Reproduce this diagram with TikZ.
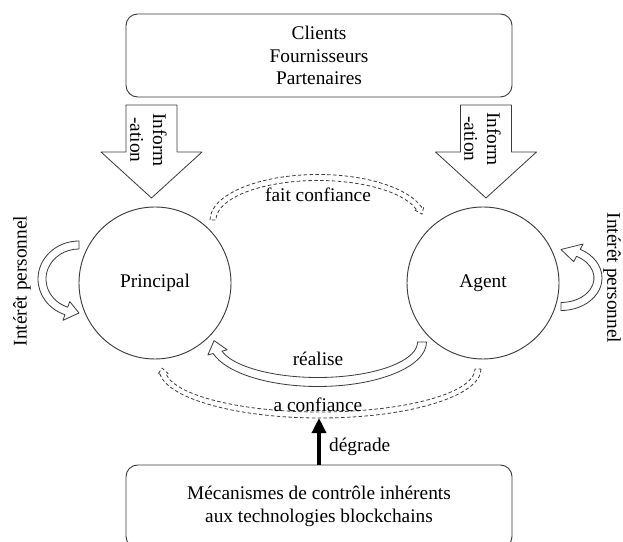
\documentclass[tikz,border=0pt]{standalone}
\usepackage{fontspec}
\setmainfont{Liberation Serif}
\usetikzlibrary{
    positioning,
    arrows.meta,
    calc
}
\definecolor{lineGray}{RGB}{60, 60, 60}

% curved block arrow: style, centre, start angle, head angle, tip angle, x radius, y radius, half width, half head
\newcommand{\bentarrow}[9]{%
    \draw[#1] ($(#2)+(#3:{#6+#8} and {#7+#8})$)
        arc[start angle=#3, end angle=#4, x radius={#6+#8}, y radius={#7+#8}]
        -- ($(#2)+(#4:{#6+#9} and {#7+#9})$)
        -- ($(#2)+(#5:#6 and #7)$)
        -- ($(#2)+(#4:{#6-#9} and {#7-#9})$)
        -- ($(#2)+(#4:{#6-#8} and {#7-#8})$)
        arc[start angle=#4, end angle=#3, x radius={#6-#8}, y radius={#7-#8}]
        -- cycle;}

\begin{document}
\begin{tikzpicture}[x=0.03cm, y=0.03cm, >=Stealth,
        every node/.style={font=\fontsize{16.5}{19.5}\selectfont},
        box/.style={draw=lineGray, rounded corners=0.35cm, minimum width=11.58cm, minimum height=2.49cm, align=center, line width=0.8pt},
        actor/.style={draw=lineGray, circle, minimum size=4.56cm, inner sep=0pt, line width=0.8pt},
        hollow/.style={draw=lineGray, fill=white, line width=0.7pt, line join=round},
        trust/.style={draw=lineGray, dash pattern=on 3pt off 2pt, line width=0.7pt}]
            \useasboundingbox (0,0) rectangle (623,542);
            \clip (0,0) rectangle (623,542);

            \node[box] (clients) at (319,486.5) {Clients\\Fournisseurs\\Partenaires};
            \node[box] (ctrl) at (319,35.5) {Mécanismes de contrôle inhérents\\aux technologies blockchains};

            \node[actor] (principal) at (155,259) {Principal};
            \node[actor] (agent) at (483,259) {Agent};

            % information
            \foreach \ax in {151.5, 486}
                \draw[hollow] (\ax,437) ++(-25.5,0) -- ++(51,0) -- ++(0,-47) -- ++(25,0)
                    -- ++(-50.5,-46) -- ++(-50.5,46) -- ++(25,0) -- cycle;
            \node[rotate=-90, align=center] (infoP) at (148.5,402) {Inform\\-ation};
            \node[rotate=-90, align=center] (infoA) at (482.5,403) {Inform\\-ation};

            % interet personnel
            \bentarrow{hollow}{79,263}{90}{250}{270}{37}{34}{4}{10}
            \bentarrow{hollow}{561,264}{-90}{62}{90}{37}{28.5}{4}{10}
            \node[rotate=90] (interetP) at (22,261) {Intérêt personnel};
            \node[rotate=-90, inner sep=1pt] (interetA) at (612,264) {Intérêt personnel};

            % confiance
            \bentarrow{trust}{318,322}{180}{16}{8}{105}{42.5}{3}{5}
            \bentarrow{hollow}{318,200}{0}{-165}{-182}{104}{40}{4.5}{10}
            \bentarrow{trust}{320,173}{0}{-174}{-181}{158}{46}{3}{5}
            \node (faitconf) at (318,347) {fait confiance};
            \node (realise) at (318,183) {réalise};
            \node (aconf) at (318,137) {a confiance};

            \coordinate (degtip) at (319,124);
            \draw[line width=4pt, -{Triangle[length=13pt, width=12pt]}] (ctrl.north) -- (degtip);
            \node[anchor=west] (degrade) at (325,95) {dégrade};
        \end{tikzpicture}
\end{document}
